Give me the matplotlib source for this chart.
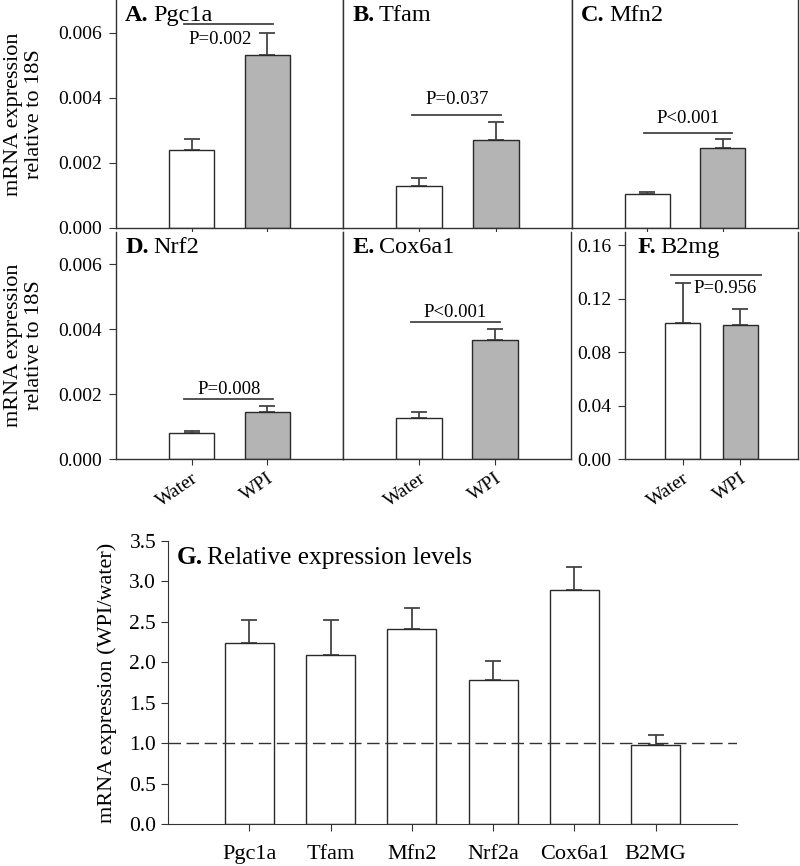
import matplotlib
matplotlib.use('Agg')
import matplotlib.pyplot as plt

plt.rcParams['font.family'] = ['Liberation Serif', 'DejaVu Serif']

# panels A-F: expression relative to 18S
panel_letters = ['A.', 'B.', 'C.', 'D.', 'E.', 'F.']
genes = ['Pgc1a', 'Tfam', 'Mfn2', 'Nrf2', 'Cox6a1', 'B2mg']
groups = ['Water', 'WPI']
water_mean = [0.00238, 0.00128, 0.00104, 0.00081, 0.00125, 0.102]
water_sem = [0.00036, 0.00027, 0.00008, 0.00005, 0.00019, 0.030]
wpi_mean = [0.0053, 0.00269, 0.00246, 0.00144, 0.00366, 0.1002]
wpi_sem = [0.0007, 0.00055, 0.00027, 0.00018, 0.00035, 0.0122]
p_values = ['P=0.002', 'P=0.037', 'P<0.001', 'P=0.008', 'P<0.001', 'P=0.956']

# panel G: WPI / water ratio
rel_genes = ['Pgc1a', 'Tfam', 'Mfn2', 'Nrf2a', 'Cox6a1', 'B2MG']
rel_mean = [2.235, 2.095, 2.41, 1.775, 2.895, 0.978]
rel_sem = [0.285, 0.43, 0.257, 0.24, 0.28, 0.12]

W, H = 800, 866
def box(x0, x1, y0, y1):
    # pixel box -> figure fraction
    return [x0 / W, 1 - y1 / H, (x1 - x0) / W, (y1 - y0) / H]

fig = plt.figure(figsize=(8, 8.66), dpi=100)

boxes = [box(116, 343, 0, 228), box(343, 572, 0, 228), box(572, 798, 0, 228),
         box(116, 343, 232, 459), box(343, 571, 232, 459), box(625, 798, 232, 459)]
# significance bar: (x start, x end, y line, text x, text y)
sig = [(-0.1, 1.08, 0.00625, 0.37, 0.00578),
       (-0.1, 1.07, 0.00348, 0.5, 0.00394),
       (-0.04, 1.13, 0.00293, 0.54, 0.00335),
       (-0.1, 1.08, 0.00184, 0.5, 0.00215),
       (-0.1, 1.07, 0.00422, 0.48, 0.00453),
       (-0.21, 1.36, 0.1376, 0.74, 0.1278)]

edge = '#2a2a2a'
grey = '#b4b4b4'

for i in range(6):
    ax = fig.add_axes(boxes[i])
    ax.bar([0, 1], [water_mean[i], wpi_mean[i]], width=0.6,
           color=['white', grey], edgecolor=edge, linewidth=1.0, zorder=2)
    ax.errorbar([0, 1], [water_mean[i], wpi_mean[i]],
                yerr=[[0, 0], [water_sem[i], wpi_sem[i]]],
                fmt='none', ecolor='#444444', elinewidth=1.3, capsize=6,
                capthick=1.3, zorder=1)
    ax.set_xlim(-1, 2)
    if i < 5:
        ax.set_ylim(0, 0.007)
    else:
        ax.set_ylim(0, 0.17)
    ax.spines['top'].set_visible(False)
    for s in ['left', 'right', 'bottom']:
        ax.spines[s].set_color('#333333')
        ax.spines[s].set_linewidth(1.0)
    ax.set_xticks([0, 1])
    if i >= 3:
        ax.set_xticklabels(groups, rotation=35, ha='right', va='top',
                           rotation_mode='anchor', fontsize=14)
    else:
        ax.set_xticklabels([])
    ax.tick_params(axis='x', direction='out', length=4, color='#333333')
    if i in (0, 3):
        ax.set_yticks([0, 0.002, 0.004, 0.006])
        ax.set_yticklabels(['%.3f' % v for v in [0, 0.002, 0.004, 0.006]], fontsize=14)
        ax.set_ylabel('mRNA expression\nrelative to 18S', fontsize=16, linespacing=1.2)
        ax.yaxis.set_label_coords(-0.315, 0.5)
    elif i == 5:
        ax.set_yticks([0, 0.04, 0.08, 0.12, 0.16])
        ax.set_yticklabels(['%.2f' % v for v in [0, 0.04, 0.08, 0.12, 0.16]], fontsize=14)
    else:
        ax.set_yticks([])
    ax.tick_params(axis='y', direction='out', length=5, pad=5, color='#333333')

    x0, x1, yl, tx, ty = sig[i]
    ax.plot([x0, x1], [yl, yl], color='#444444', lw=1.3)
    ax.text(tx, ty, p_values[i], ha='center', va='center', fontsize=13.5)

    t1 = ax.text(0.04 if i != 5 else 0.07, 0.93, panel_letters[i], transform=ax.transAxes,
                 fontsize=17.5, fontweight='bold', va='center', ha='left')
    ax.annotate(genes[i], xy=(1, 0), xycoords=t1, xytext=(3, 0),
                textcoords='offset points', fontsize=17.5, va='bottom', ha='left')

# panel G
ax = fig.add_axes(box(168, 737, 540.7, 824.3))
x = list(range(len(rel_genes)))
ax.bar(x, rel_mean, width=0.6, color='white', edgecolor=edge, linewidth=1.0, zorder=2)
ax.errorbar(x, rel_mean, yerr=[[0] * len(rel_sem), rel_sem], fmt='none',
            ecolor='#444444', elinewidth=1.3, capsize=6, capthick=1.3, zorder=1)
ax.axhline(1.0, color='#333333', lw=1.0, ls=(0, (9, 4)), zorder=3)
ax.set_xlim(-1, 6)
ax.set_ylim(0, 3.5)
ax.spines['top'].set_visible(False)
ax.spines['right'].set_visible(False)
for s in ['left', 'bottom']:
    ax.spines[s].set_color('#333333')
ax.set_xticks(x)
ax.set_xticklabels(rel_genes, fontsize=16)
ax.tick_params(axis='x', direction='out', length=5, pad=10, color='#333333')
ax.set_yticks([0, 0.5, 1.0, 1.5, 2.0, 2.5, 3.0, 3.5])
ax.set_yticklabels(['%.1f' % v for v in [0, 0.5, 1.0, 1.5, 2.0, 2.5, 3.0, 3.5]], fontsize=15.5)
ax.tick_params(axis='y', direction='out', length=5, color='#333333')
ax.set_ylabel('mRNA expression (WPI/water)', fontsize=16)
ax.yaxis.set_label_coords(-0.09, 0.5)
t1 = ax.text(0.016, 0.94, 'G.', transform=ax.transAxes, fontsize=18.3,
             fontweight='bold', va='center', ha='left')
ax.annotate('Relative expression levels', xy=(1, 0), xycoords=t1, xytext=(3, 0),
            textcoords='offset points', fontsize=18.3, va='bottom', ha='left')

fig.savefig('out.png', dpi=100)
